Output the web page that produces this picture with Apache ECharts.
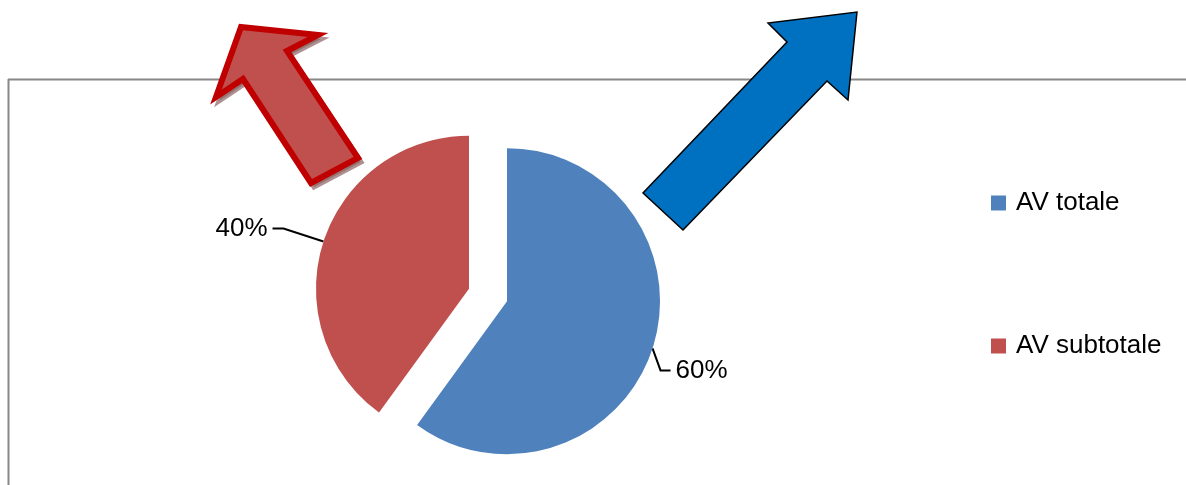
<!DOCTYPE html>
<html>
<head>
<meta charset="utf-8">
<script src="https://cdn.jsdelivr.net/npm/echarts@6/dist/echarts.min.js"></script>
<style>
html,body{margin:0;padding:0;background:#fff;}
#chart{width:1186px;height:485px;}
</style>
</head>
<body>
<div id="chart"></div>
<script>
const categories = ['AV totale', 'AV subtotale'];
const values = [60, 40];
const sliceColors = ['#4F81BD', '#C0504D'];

const chart = echarts.init(document.getElementById('chart'), null, {renderer: 'canvas'});

const redArrow = [[241,27],[318,35],[287,51],[358,158],[311,183],[243,79],[216,97]];
const redShadow = redArrow.map(p => [p[0] + 3, p[1] + 4]);
const blueArrow = [[857,12],[848,100],[827,81],[683,230],[643,193],[787,42],[768,23]];

const option = {
  animation: false,
  backgroundColor: '#ffffff',
  legend: {
    orient: 'vertical',
    left: 986,
    top: 185,
    itemWidth: 15,
    itemHeight: 15,
    itemGap: 117,
    icon: 'rect',
    selectedMode: false,
    textStyle: {
      fontFamily: 'Liberation Sans',
      fontSize: 26,
      color: '#000',
      padding: [0, 0, 0, 5]
    },
    data: categories
  },
  graphic: [
    { type: 'line', z: 0, shape: {x1: 8, y1: 79.5, x2: 1186, y2: 79.5}, style: {stroke: '#888', lineWidth: 2} },
    { type: 'line', z: 0, shape: {x1: 8.5, y1: 79, x2: 8.5, y2: 485}, style: {stroke: '#888', lineWidth: 2} },
    { type: 'polygon', z: 5, shape: {points: redShadow}, style: {fill: 'rgba(140,100,100,0.7)', stroke: 'rgba(140,100,100,0.7)', lineWidth: 5} },
    { type: 'polygon', z: 6, shape: {points: redArrow}, style: {fill: '#C0504D', stroke: '#C00000', lineWidth: 6, lineJoin: 'miter'} },
    { type: 'polygon', z: 6, shape: {points: blueArrow}, style: {fill: '#0070C0', stroke: '#000', lineWidth: 1.5, lineJoin: 'miter'} }
  ],
  series: [{
    type: 'pie',
    center: [488, 295],
    radius: 153,
    startAngle: 90,
    clockwise: true,
    avoidLabelOverlap: false,
    selectedMode: 'multiple',
    selectedOffset: 20,
    emphasis: { disabled: true },
    label: {
      show: true,
      position: 'outside',
      formatter: '{d}%',
      fontFamily: 'Liberation Sans',
      fontSize: 26,
      color: '#000'
    },
    labelLine: {
      show: true,
      length: 42,
      length2: 11,
      lineStyle: { color: '#000', width: 2 }
    },
    labelLayout: function (p) {
      if (p.dataIndex !== 0 || !p.labelLinePoints) return {};
      const pts = p.labelLinePoints;
      const a = pts[0];
      const m = [a[0] + 8, a[1] + 22];
      const e = [m[0] + 10, m[1]];
      const dx = e[0] - pts[2][0];
      const dy = e[1] - pts[2][1];
      return { dx: dx, dy: dy, labelLinePoints: [a, m, e] };
    },
    data: categories.map((c, i) => ({
      name: c,
      value: values[i],
      selected: true,
      itemStyle: { color: sliceColors[i] },
      labelLine: i === 0 ? { length: 20, length2: 10 } : undefined
    }))
  }]
};
chart.setOption(option);
</script>
</body>
</html>
